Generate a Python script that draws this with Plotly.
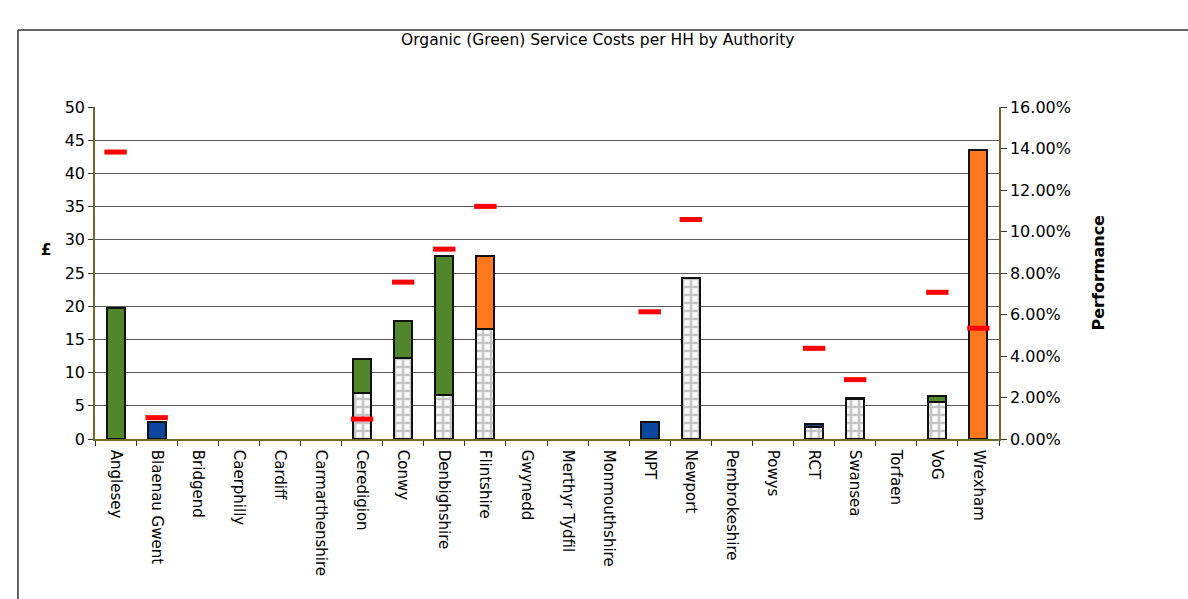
import plotly.graph_objects as go

# Local authorities along the category axis
authorities = [
    "Anglesey", "Blaenau Gwent", "Bridgend", "Caerphilly", "Cardiff",
    "Carmarthenshire", "Ceredigion", "Conwy", "Denbighshire", "Flintshire",
    "Gwynedd", "Merthyr Tydfil", "Monmouthshire", "NPT", "Newport",
    "Pembrokeshire", "Powys", "RCT", "Swansea", "Torfaen", "VoG", "Wrexham",
]

# Cost per household (GBP), stacked components
collection_cost = [None, None, None, None, None, None, 6.9, 12.2, 6.7, 16.5,
                   None, None, None, None, 24.2, None, None, 1.8, 6.0, None, 5.5, None]
composting_cost = [19.8, None, None, None, None, None, 5.1, 5.5, 20.9, None,
                   None, None, None, None, None, None, None, None, None, None, 1.0, None]
treatment_cost = [None, None, None, None, None, None, None, None, None, 11.1,
                  None, None, None, None, None, None, None, None, 0.25, None, None, 43.6]
other_cost = [None, 2.5, None, None, None, None, None, None, None, None,
              None, None, None, 2.5, None, None, None, 0.45, None, None, None, None]

# Performance (share), plotted against the right-hand axis
performance = [0.1383, 0.0103, None, None, None, None, 0.0096, 0.0756, 0.0915, 0.1121,
               None, None, None, 0.0613, 0.1058, None, None, 0.0437, 0.0286, None, 0.0707, 0.0534]

FONT = "DejaVu Sans"
AXIS_OLIVE = "#6b6b2a"
OUTLINE = dict(color="#111111", width=2)

fig = go.Figure()

fig.add_trace(go.Bar(
    x=authorities, y=collection_cost, name="Collection",
    marker=dict(color="white", line=OUTLINE,
                pattern=dict(shape="+", fgcolor="#8c8c8c", bgcolor="white",
                             size=8, solidity=0.55)),
))
fig.add_trace(go.Bar(
    x=authorities, y=composting_cost, name="Composting",
    marker=dict(color="#52862a", line=OUTLINE),
))
fig.add_trace(go.Bar(
    x=authorities, y=treatment_cost, name="Treatment",
    marker=dict(color="#ff781e", line=OUTLINE),
))
fig.add_trace(go.Bar(
    x=authorities, y=other_cost, name="Other",
    marker=dict(color="#0b479e", line=OUTLINE),
))
fig.add_trace(go.Scatter(
    x=authorities, y=performance, name="Performance", yaxis="y2",
    mode="markers",
    marker=dict(symbol="line-ew", size=16, line=dict(color="#ff0000", width=5)),
))

n = len(authorities)

fig.update_layout(
    width=1188, height=599,
    margin=dict(l=95, r=189, t=107, b=160),
    paper_bgcolor="white", plot_bgcolor="white",
    barmode="stack", bargap=0.56,
    showlegend=False,
    font=dict(family=FONT, color="#000000", size=16),
    xaxis=dict(
        type="category", range=[-0.5, n - 0.5], tickangle=90, tickfont=dict(size=15),
        ticklabelstandoff=6,
        showline=True, linecolor=AXIS_OLIVE, linewidth=1.5,
        ticks="outside", tickson="boundaries", ticklen=5, tickcolor="#333333",
        showgrid=False,
    ),
    yaxis=dict(
        range=[0, 50], dtick=5, tickfont=dict(size=16),
        showline=True, linecolor=AXIS_OLIVE, linewidth=1.5,
        ticks="outside", ticklen=5, tickcolor="#333333",
        showgrid=True, gridcolor="#5e5e5e", gridwidth=1,
        zeroline=False,
    ),
    yaxis2=dict(
        overlaying="y", side="right", range=[0, 0.16], dtick=0.02,
        tickformat=".2%", tickfont=dict(size=16),
        showline=True, linecolor=AXIS_OLIVE, linewidth=1.5,
        ticks="outside", ticklen=6, tickcolor="#333333",
        showgrid=False, zeroline=False,
    ),
    annotations=[
        dict(text="Organic (Green) Service Costs per HH by Authority",
             xref="paper", yref="paper", x=0.556, y=1.203,
             xanchor="center", yanchor="middle", showarrow=False,
             font=dict(size=15.5)),
        dict(text="<b>£</b>", xref="paper", yref="paper", x=-0.054, y=0.57,
             xanchor="center", yanchor="middle", showarrow=False,
             font=dict(size=15)),
        dict(text="<b>Performance</b>", xref="paper", yref="paper", x=1.109, y=0.5,
             xanchor="center", yanchor="middle", showarrow=False, textangle=-90,
             font=dict(size=16)),
    ],
    shapes=[
        # chart frame: left edge and top edge
        dict(type="line", xref="paper", yref="paper",
             x0=-0.0852, x1=-0.0852, y0=1.232, y1=-0.5,
             line=dict(color="#333333", width=1.5)),
        dict(type="line", xref="paper", yref="paper",
             x0=-0.0852, x1=1.22, y0=1.232, y1=1.232,
             line=dict(color="#333333", width=1.5)),
    ],
)

fig.write_html("out.html")
